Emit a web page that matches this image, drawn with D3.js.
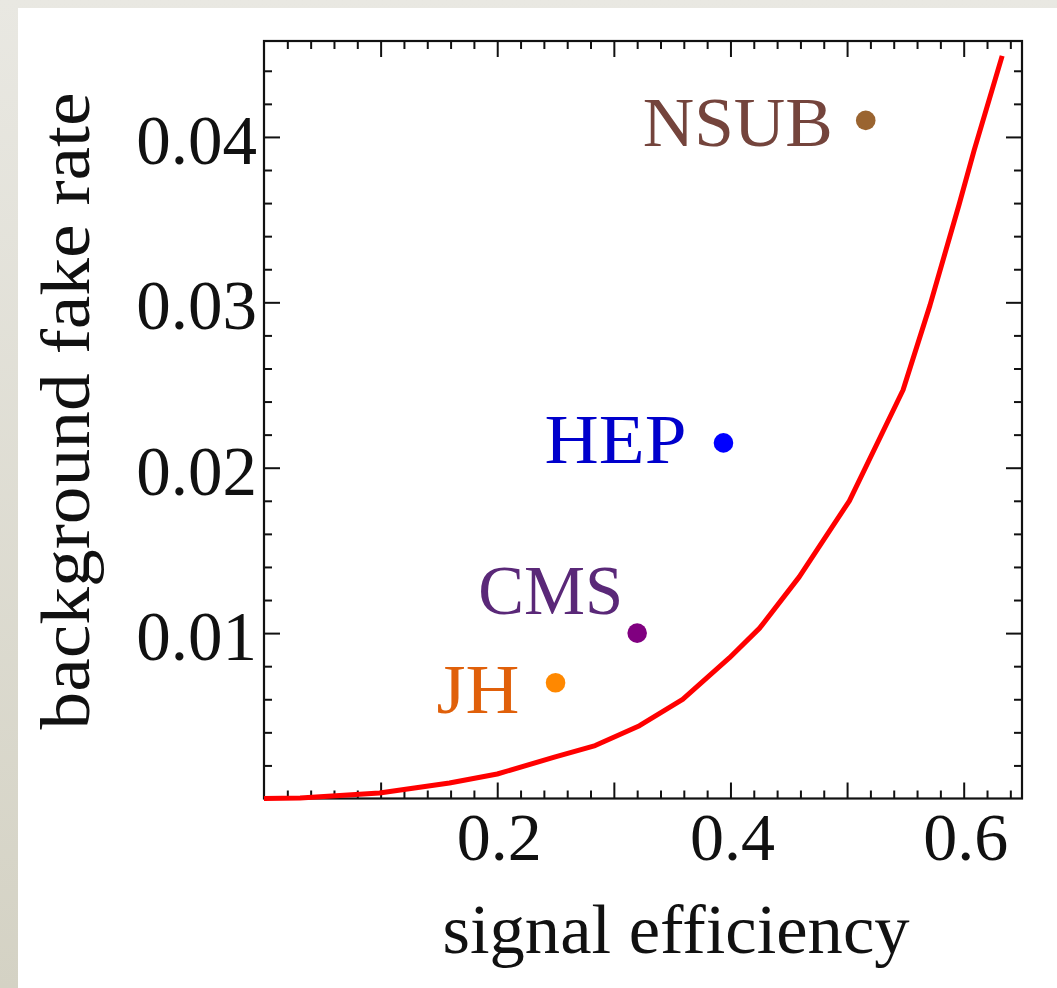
<!DOCTYPE html>
<html>
<head>
  <meta charset="utf-8">
  <script src="https://d3js.org/d3.v7.min.js"></script>
</head>
<style>
html, body {
  margin: 0;
  padding: 0;
}
body {
  width: 1057px;
  height: 988px;
  overflow: hidden;
  background: linear-gradient(to bottom, #e9e8e2, #d4d2c4);
}
text {
  font-family: "Liberation Serif", "DejaVu Serif", serif;
}
</style>
<body>
  <svg id="svg_roc"></svg>
</body>
<script>
  // ROC-style curve (signal efficiency vs background fake rate)
  var curveEff  = [0, 0.031, 0.099, 0.159, 0.2, 0.249, 0.284, 0.322, 0.359, 0.399, 0.425, 0.459, 0.502, 0.548, 0.571, 0.596, 0.609, 0.633];
  var curveFake = [0, 0.00003, 0.00033, 0.00094, 0.00148, 0.0025, 0.0032, 0.0044, 0.006, 0.0085, 0.0103, 0.0134, 0.018, 0.0247, 0.0298, 0.0359, 0.0392, 0.0449];

  // taggers
  var taggers   = ["NSUB", "HEP", "CMS", "JH"];
  var tagEff    = [0.516, 0.394, 0.32, 0.25];
  var tagFake   = [0.041, 0.0215, 0.01, 0.007];
  var dotColors  = ["#9a6430", "#0000ff", "#800080", "#ff8800"];
  var textColors = ["#74443c", "#0000cc", "#5a2878", "#e0600a"];
  // label placement relative to the dot (px): text end, baseline, width
  var labelDx = [-33, -37, -14, -36];
  var labelDy = [26, 20, -19, 30];
  var labelW  = [190, 142, 145, 83];

  var xTickLabels = [0.2, 0.4, 0.6];
  var yTickLabels = [0.01, 0.02, 0.03, 0.04];

  var w = 1057;
  var h = 988;
  var plot = {left: 264, right: 1022, top: 41, bottom: 798.5};

  var svg = d3.select("svg#svg_roc")
    .attr("width", w)
    .attr("height", h);

  // white card
  svg.append("rect")
    .attr("x", 18).attr("y", 8)
    .attr("width", w - 18).attr("height", h - 8)
    .attr("fill", "white");

  var x = d3.scaleLinear().domain([0, 0.65]).range([plot.left, plot.right]);
  var y = d3.scaleLinear().domain([0, 0.0458]).range([plot.bottom, plot.top]);

  var xMajor = d3.range(1, 7).map(function(i) { return i / 10; });
  var xMinor = d3.range(1, 33).map(function(i) { return i / 50; }).filter(function(v) { return Math.abs(v * 10 - Math.round(v * 10)) > 1e-6; });
  var yMajor = d3.range(1, 5).map(function(i) { return i / 100; });
  var yMinor = d3.range(1, 23).map(function(i) { return i / 500; }).filter(function(v) { return Math.abs(v * 100 - Math.round(v * 100)) > 1e-6; });

  var g = svg.append("g");

  function tickAxis(axisFn, scale, values, size, transform) {
    var a = axisFn(scale).tickValues(values).tickSize(-size).tickFormat("");
    var ga = g.append("g").attr("transform", transform).call(a);
    ga.select(".domain").remove();
    ga.selectAll("line").attr("stroke", "#111").attr("stroke-width", 2);
  }

  // inward ticks on all four sides
  tickAxis(d3.axisBottom, x, xMajor, 16, "translate(0," + plot.bottom + ")");
  tickAxis(d3.axisBottom, x, xMinor, 8, "translate(0," + plot.bottom + ")");
  tickAxis(d3.axisTop, x, xMajor, 16, "translate(0," + plot.top + ")");
  tickAxis(d3.axisTop, x, xMinor, 8, "translate(0," + plot.top + ")");
  tickAxis(d3.axisLeft, y, yMajor, 16, "translate(" + plot.left + ",0)");
  tickAxis(d3.axisLeft, y, yMinor, 8, "translate(" + plot.left + ",0)");
  tickAxis(d3.axisRight, y, yMajor, 16, "translate(" + plot.right + ",0)");
  tickAxis(d3.axisRight, y, yMinor, 8, "translate(" + plot.right + ",0)");

  // frame
  g.append("rect")
    .attr("x", plot.left).attr("y", plot.top)
    .attr("width", plot.right - plot.left)
    .attr("height", plot.bottom - plot.top)
    .attr("fill", "none")
    .attr("stroke", "#111")
    .attr("stroke-width", 2.2);

  // tick labels
  g.selectAll("text.xlab")
    .data(xTickLabels)
    .enter().append("text")
    .attr("class", "xlab")
    .attr("x", function(d) { return x(d) + 2; })
    .attr("y", 860)
    .attr("text-anchor", "middle")
    .attr("font-size", 68)
    .attr("fill", "#111")
    .text(function(d) { return d.toFixed(1); });

  g.selectAll("text.ylab")
    .data(yTickLabels)
    .enter().append("text")
    .attr("class", "ylab")
    .attr("x", plot.left - 7)
    .attr("y", function(d) { return y(d) + 27; })
    .attr("text-anchor", "end")
    .attr("font-size", 69)
    .attr("fill", "#111")
    .text(function(d) { return d.toFixed(2); });

  // axis titles
  g.append("text")
    .attr("x", 676)
    .attr("y", 953)
    .attr("text-anchor", "middle")
    .attr("font-size", 70)
    .attr("textLength", 467)
    .attr("lengthAdjust", "spacingAndGlyphs")
    .attr("fill", "#111")
    .text("signal efficiency");

  g.append("text")
    .attr("transform", "translate(89,411) rotate(-90)")
    .attr("text-anchor", "middle")
    .attr("font-size", 70)
    .attr("textLength", 637)
    .attr("lengthAdjust", "spacingAndGlyphs")
    .attr("fill", "#111")
    .text("background fake rate");

  // curve
  var curveData = curveEff.map(function(e, i) { return [e, curveFake[i]]; });
  var line = d3.line()
    .x(function(d) { return x(d[0]); })
    .y(function(d) { return y(d[1]); });

  g.append("path")
    .datum(curveData)
    .attr("d", line)
    .attr("fill", "none")
    .attr("stroke", "#ff0000")
    .attr("stroke-width", 5)
    .attr("stroke-linejoin", "round");

  // tagger points and labels
  var tags = g.selectAll("g.tag")
    .data(taggers)
    .enter().append("g")
    .attr("class", "tag");

  tags.append("circle")
    .attr("cx", function(d, i) { return x(tagEff[i]); })
    .attr("cy", function(d, i) { return y(tagFake[i]); })
    .attr("r", 9.8)
    .attr("fill", function(d, i) { return dotColors[i]; });

  tags.append("text")
    .attr("x", function(d, i) { return x(tagEff[i]) + labelDx[i] - labelW[i]; })
    .attr("y", function(d, i) { return y(tagFake[i]) + labelDy[i]; })
    .attr("font-size", 70)
    .attr("textLength", function(d, i) { return labelW[i]; })
    .attr("lengthAdjust", "spacingAndGlyphs")
    .attr("fill", function(d, i) { return textColors[i]; })
    .text(function(d) { return d; });
</script>
</html>
